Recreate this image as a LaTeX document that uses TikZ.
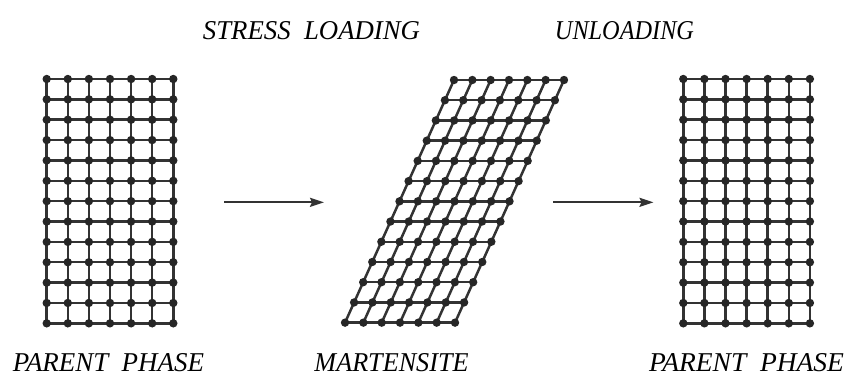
\documentclass[tikz,border=0pt]{standalone}
\usepackage{fontspec}
\setmainfont{Liberation Serif}
\usepackage{graphicx}
\usetikzlibrary{arrows.meta}

% caption set in slanted caps, stretched to a given width and cap height
\newcommand{\phaselabel}[2]{\resizebox{#1pt}{18pt}{\itshape #2}}

\tikzset{
  latline/.style={line width=2.5pt, draw=black!80},
  latdot/.style={fill=black!85},
  flowarrow/.style={line width=2pt, draw=black!80,
    -{Stealth[length=14pt, width=9pt, inset=2pt]}},
  caption/.style={inner sep=0pt, anchor=center}
}

\begin{document}
\begin{tikzpicture}[x=1pt, y=-1pt]
  \useasboundingbox (0,0) rectangle (846,376);

  % square lattice of the parent phase: 7 columns x 13 rows
  \foreach \ox in {46.7, 683.3} {
    \foreach \i in {0,...,12}
      \draw[latline] (\ox, 79+\i*20.36) -- (\ox+126.6, 79+\i*20.36);
    \foreach \j in {0,...,6}
      \draw[latline] (\ox+\j*21.1, 79) -- (\ox+\j*21.1, 323.3);
    \foreach \i in {0,...,12}
      \foreach \j in {0,...,6}
        \fill[latdot] (\ox+\j*21.1, 79+\i*20.36) circle (4.2pt);
  }

  % sheared lattice of the martensite
  \foreach \i in {0,...,12}
    \draw[latline] (454-\i*9.08, 80+\i*20.22) -- (454-\i*9.08+110, 80+\i*20.22);
  \foreach \j in {0,...,6}
    \draw[latline] (454+\j*18.33, 80) -- (345+\j*18.33, 322.7);
  \foreach \i in {0,...,12}
    \foreach \j in {0,...,6}
      \fill[latdot] (454-\i*9.08+\j*18.33, 80+\i*20.22) circle (4.2pt);

  % transformation arrows
  \coordinate (loadA) at (224,202.3);
  \coordinate (loadB) at (324,202.3);
  \coordinate (unloadA) at (553.3,202.3);
  \coordinate (unloadB) at (653.5,202.3);
  \draw[flowarrow] (loadA) -- (loadB);
  \draw[flowarrow] (unloadA) -- (unloadB);

  % labels
  \node[caption] (stress) at (311.5,30.5) {\phaselabel{217}{STRESS\ \ LOADING}};
  \node[caption] (unload) at (624.5,30.5) {\phaselabel{139}{UNLOADING}};
  \node[caption] (parentL) at (108.5,362.5) {\phaselabel{191}{PARENT\ \ PHASE}};
  \node[caption] (mart) at (391.5,362.5) {\phaselabel{154}{MARTENSITE}};
  \node[caption] (parentR) at (746.5,362.5) {\phaselabel{195}{PARENT\ \ PHASE}};
\end{tikzpicture}
\end{document}
